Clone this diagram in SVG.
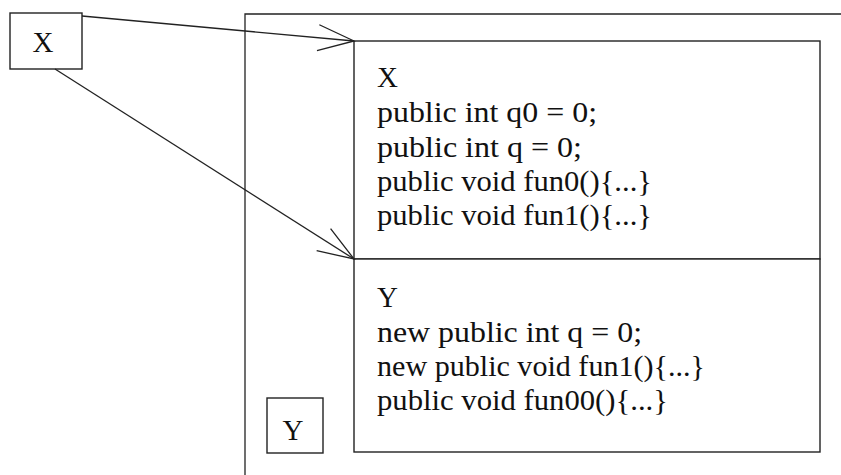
<svg xmlns="http://www.w3.org/2000/svg" width="841" height="475" viewBox="0 0 841 475">
<style>
.box{fill:#fff;stroke:#222;stroke-width:1.4}
.ln{fill:none;stroke:#222;stroke-width:1.3}
.t{font-family:"Liberation Serif","Times New Roman",serif;font-size:29px;fill:#111}
</style>
<defs>
<marker id="arr" markerUnits="userSpaceOnUse" markerWidth="50" markerHeight="40" viewBox="-40 -20 50 40" refX="0" refY="0" orient="auto">
<path d="M-36,-13 L0,0 L-36,13" fill="none" stroke="#222" stroke-width="1.3"/>
</marker>
</defs>
<rect width="841" height="475" fill="#fff"/>
<g id="container">
<path class="ln" d="M245,475 L245,14 L841,14"/>
</g>
<g id="node-x-ref">
<rect class="box" x="10" y="13" width="72" height="56"/>
<text class="t" x="43" y="52" text-anchor="middle">X</text>
</g>
<g id="node-x-obj">
<rect class="box" x="354" y="41" width="466" height="218"/>
<text class="t" x="377" y="87">X</text>
<text class="t" x="377" y="122" textLength="220" lengthAdjust="spacingAndGlyphs">public int q0 = 0;</text>
<text class="t" x="377" y="157" textLength="205" lengthAdjust="spacingAndGlyphs">public int q = 0;</text>
<text class="t" x="377" y="191" textLength="275" lengthAdjust="spacingAndGlyphs">public void fun0(){...}</text>
<text class="t" x="377" y="225" textLength="275" lengthAdjust="spacingAndGlyphs">public void fun1(){...}</text>
</g>
<g id="node-y-obj">
<rect class="box" x="354" y="259" width="466" height="193"/>
<text class="t" x="377" y="307">Y</text>
<text class="t" x="377" y="342" textLength="265" lengthAdjust="spacingAndGlyphs">new public int q = 0;</text>
<text class="t" x="377" y="376" textLength="328" lengthAdjust="spacingAndGlyphs">new public void fun1(){...}</text>
<text class="t" x="377" y="410" textLength="291" lengthAdjust="spacingAndGlyphs">public void fun00(){...}</text>
</g>
<g id="node-y-ref">
<rect class="box" x="267" y="398" width="56" height="55"/>
<text class="t" x="293" y="440" text-anchor="middle">Y</text>
</g>
<g id="connectors">
<line class="ln" x1="82" y1="16" x2="354" y2="41" marker-end="url(#arr)"/>
<line class="ln" x1="55" y1="69" x2="354" y2="259" marker-end="url(#arr)"/>
</g>
</svg>
